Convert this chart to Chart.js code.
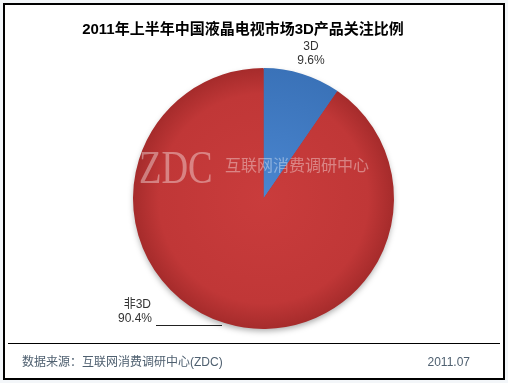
<!DOCTYPE html>
<html><head><meta charset="utf-8">
<script src="https://cdn.jsdelivr.net/npm/chart.js@4"></script>
<style>html,body{margin:0;padding:0;background:#f3f6f9;}#wrap{width:508px;height:383px;position:relative;}</style>
</head><body><div id="wrap"><canvas id="c" width="508" height="383"></canvas></div>
<script>
const titleText = '2011年上半年中国液晶电视市场3D产品关注比例';
const categories = ['3D', '非3D'];
const values = [9.6, 90.4];
const valueLabels = ['9.6%', '90.4%'];
const sourceText = '数据来源：互联网消费调研中心(ZDC)';
const dateText = '2011.07';
const watermarkLogo = 'ZDC';
const watermarkText = '互联网消费调研中心';

const CJK = '"Liberation Sans", "Noto Sans CJK SC", sans-serif';

const frame = {
  id: 'frame',
  beforeDraw(chart) {
    const ctx = chart.ctx;
    ctx.save();
    ctx.fillStyle = '#f3f6f9';
    ctx.fillRect(0, 0, 508, 383);
    ctx.fillStyle = '#ffffff';
    ctx.fillRect(4, 4, 500, 375);
    ctx.strokeStyle = '#000';
    ctx.lineWidth = 2;
    ctx.strokeRect(4, 4, 500, 375);
    ctx.lineWidth = 1;
    ctx.beginPath(); ctx.moveTo(8, 343.5); ctx.lineTo(500, 343.5); ctx.stroke();
    ctx.fillStyle = '#000';
    ctx.font = 'bold 15px ' + CJK;
    ctx.textAlign = 'center'; ctx.textBaseline = 'middle';
    ctx.fillText(titleText, 243, 30);
    ctx.fillStyle = '#4f6070';
    ctx.font = '12px ' + CJK;
    ctx.textAlign = 'left';
    ctx.fillText(sourceText, 22, 363);
    ctx.textAlign = 'right';
    ctx.fillText(dateText, 470, 363);
    ctx.restore();
  },
  beforeDatasetsDraw(chart) {
    const ctx = chart.ctx;
    ctx.save();
    ctx.shadowColor = 'rgba(0,0,0,0.35)';
    ctx.shadowBlur = 6; ctx.shadowOffsetY = 3;
    const arc = chart.getDatasetMeta(0).data[0];
    ctx.fillStyle = '#b03030';
    ctx.beginPath(); ctx.arc(arc.x, arc.y, arc.outerRadius - 1, 0, Math.PI * 2); ctx.fill();
    ctx.restore();
  },
  afterDatasetsDraw(chart) {
    const ctx = chart.ctx;
    ctx.save();
    // watermark
    ctx.fillStyle = 'rgba(255,255,255,0.38)';
    ctx.textBaseline = 'middle';
    ctx.textAlign = 'left';
    ctx.font = '46px "Liberation Serif", serif';
    ctx.save(); ctx.scale(0.8, 1);
    ctx.fillText(watermarkLogo, 139 / 0.8, 171);
    ctx.restore();
    ctx.font = '16px ' + CJK;
    ctx.fillText(watermarkText, 225, 167);
    // labels
    ctx.fillStyle = '#333';
    ctx.font = '12px ' + CJK;
    ctx.textAlign = 'center';
    ctx.fillText(categories[0], 311, 47);
    ctx.fillText(valueLabels[0], 311, 61);
    ctx.textAlign = 'right';
    ctx.fillText(categories[1], 151, 305);
    ctx.fillText(valueLabels[1], 152, 319);
    ctx.strokeStyle = '#222'; ctx.lineWidth = 1;
    ctx.beginPath(); ctx.moveTo(156, 325.5); ctx.lineTo(222, 325.5); ctx.stroke();
    ctx.restore();
  }
};

new Chart(document.getElementById('c'), {
  type: 'pie',
  data: {
    labels: categories,
    datasets: [{
      data: values,
      backgroundColor: (c) => {
        const ch = c.chart; const area = ch.chartArea;
        if (!area) return c.dataIndex === 0 ? '#3f79c4' : '#c03535';
        const cx = (area.left + area.right) / 2, cy = (area.top + area.bottom) / 2;
        const g = ch.ctx.createRadialGradient(cx, cy, 0, cx, cy, 131);
        if (c.dataIndex === 0) { g.addColorStop(0, '#4a86d0'); g.addColorStop(1, '#3a72b8'); }
        else { g.addColorStop(0, '#c93c3c'); g.addColorStop(0.8, '#c03737'); g.addColorStop(1, '#a52b2b'); }
        return g;
      },
      borderWidth: 0
    }]
  },
  options: {
    responsive: false,
    animation: false,
    layout: { padding: { top: 68, bottom: 54, left: 133, right: 114 } },
    plugins: { legend: { display: false }, tooltip: { enabled: false }, title: { display: false } }
  },
  plugins: [frame]
});
</script></body></html>
